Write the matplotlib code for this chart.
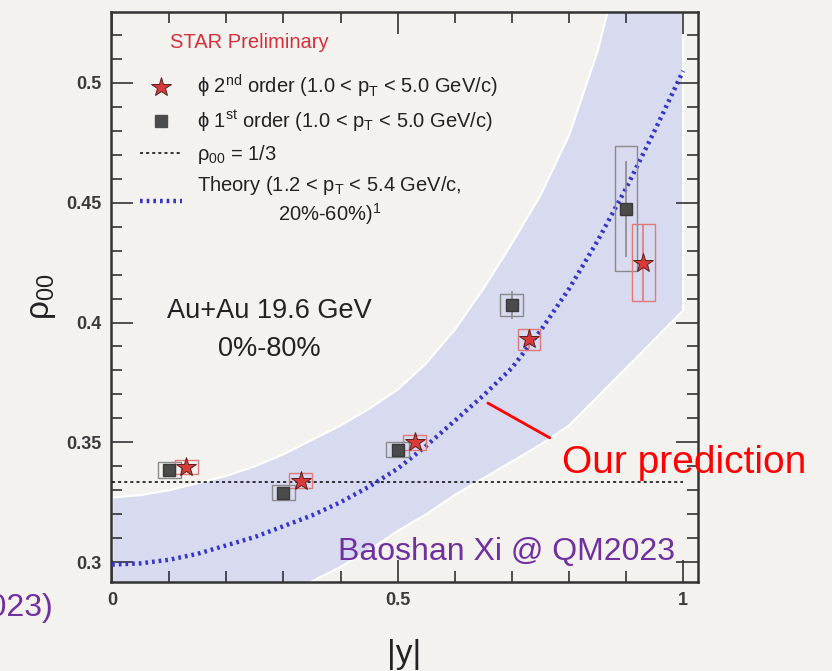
import matplotlib
matplotlib.use("Agg")
import matplotlib.pyplot as plt
from matplotlib.patches import Rectangle
from matplotlib.lines import Line2D
from matplotlib.ticker import MultipleLocator

plt.rcParams['font.family'] = ['Liberation Sans', 'DejaVu Sans']
plt.rcParams['mathtext.fontset'] = 'custom'
plt.rcParams['mathtext.rm'] = 'Liberation Sans'
plt.rcParams['mathtext.it'] = 'Liberation Sans:italic'
plt.rcParams['mathtext.bf'] = 'Liberation Sans:bold'

# phi 1st order (squares)
y1_x = [0.10, 0.30, 0.50, 0.70, 0.90]
y1_rho = [0.3385, 0.329, 0.347, 0.4073, 0.4475]
y1_stat = [0.002, 0.002, 0.002, 0.006, 0.020]
y1_sys = [0.0035, 0.003, 0.003, 0.0045, 0.026]

# phi 2nd order (stars)
y2_x = [0.13, 0.33, 0.53, 0.73, 0.93]
y2_rho = [0.3397, 0.334, 0.350, 0.393, 0.425]
y2_stat = [0.002, 0.002, 0.002, 0.004, 0.016]
y2_sys = [0.003, 0.003, 0.003, 0.0045, 0.016]

box_halfwidth = 0.02
rho_ref = 1.0 / 3.0

# theory curve and its band
th_x = [0.00, 0.05, 0.10, 0.15, 0.20, 0.25, 0.30, 0.35, 0.40, 0.45, 0.50,
        0.55, 0.60, 0.65, 0.70, 0.75, 0.80, 0.85, 0.90, 0.95, 1.00]
th_y = [0.299, 0.2995, 0.301, 0.3035, 0.307, 0.3105, 0.315, 0.3195, 0.325, 0.3315, 0.339,
        0.3485, 0.359, 0.3695, 0.381, 0.3965, 0.414, 0.434, 0.456, 0.480, 0.505]
band_hi = [0.327, 0.328, 0.330, 0.333, 0.336, 0.340, 0.345, 0.351, 0.357, 0.364, 0.372,
           0.383, 0.397, 0.414, 0.433, 0.453, 0.478, 0.513, 0.560, 0.610, 0.660]
band_lo = [0.260, 0.264, 0.268, 0.272, 0.276, 0.280, 0.285, 0.292, 0.298, 0.305, 0.313,
           0.320, 0.328, 0.335, 0.342, 0.349, 0.357, 0.369, 0.381, 0.393, 0.405]

bg = '#f3f2ef'
fig = plt.figure(figsize=(8.32, 6.71), dpi=100, facecolor=bg)
ax = fig.add_axes([0.1334, 0.1326, 0.7055, 0.8495], facecolor=bg)

ax.fill_between(th_x, band_lo, band_hi, color='#d8daf0', edgecolor='white', linewidth=1.5, zorder=1)
ax.plot(th_x, th_y, color='#3535c8', lw=3.2, ls=(0, (0.6, 0.9)), dash_capstyle='butt', zorder=4)
ax.hlines(rho_ref, 0, 1, colors='black', linestyles=(0, (2, 2)), lw=1.1, zorder=3)

# systematic boxes
for x, y, s in zip(y1_x, y1_rho, y1_sys):
    ax.add_patch(Rectangle((x - box_halfwidth, y - s), 2 * box_halfwidth, 2 * s,
                           fill=False, edgecolor='#8a8a8a', lw=1.0, zorder=5))
for x, y, s in zip(y2_x, y2_rho, y2_sys):
    ax.add_patch(Rectangle((x - box_halfwidth, y - s), 2 * box_halfwidth, 2 * s,
                           fill=False, edgecolor='#e07a7a', lw=1.0, zorder=5))

ax.errorbar(y1_x, y1_rho, yerr=y1_stat, fmt='none', ecolor='#8a8a8a', elinewidth=1.2, zorder=6)
ax.errorbar(y2_x, y2_rho, yerr=y2_stat, fmt='none', ecolor='#e07a7a', elinewidth=1.2, zorder=6)
ax.plot(y1_x, y1_rho, 's', color='#4b4b4b', markersize=8.5, markeredgecolor='#3a3a3a', zorder=7)
ax.plot(y2_x, y2_rho, '*', color='#d93a3a', markersize=15, markeredgecolor='#5a2020',
        markeredgewidth=0.7, zorder=7)

ax.set_xlim(-0.002, 1.026)
ax.set_ylim(0.2917, 0.5296)
ax.xaxis.set_major_locator(MultipleLocator(0.5))
ax.xaxis.set_minor_locator(MultipleLocator(0.1))
ax.yaxis.set_major_locator(MultipleLocator(0.05))
ax.yaxis.set_minor_locator(MultipleLocator(0.01))
ax.set_xticks([0, 0.5, 1])
ax.set_xticklabels(['0', '0.5', '1'])
ax.set_yticks([0.3, 0.35, 0.4, 0.45, 0.5])
ax.set_yticklabels(['0.3', '0.35', '0.4', '0.45', '0.5'])
ax.tick_params(which='both', direction='in', top=True, right=True, colors='#333333',
               labelsize=13, width=1.2)
ax.tick_params(which='major', length=16, pad=7)
ax.tick_params(which='minor', length=8)
for lab in ax.get_xticklabels() + ax.get_yticklabels():
    lab.set_fontweight('bold')
    lab.set_color('#3a3a3a')
for sp in ax.spines.values():
    sp.set_linewidth(1.8)
    sp.set_color('#333333')

ax.set_ylabel('ρ$_{\\mathrm{00}}$', fontsize=24, color='#222222', labelpad=6)
ax.set_xlabel('|y|', fontsize=24, color='#222222', labelpad=22)

ax.text(0.1005, 0.947, 'STAR Preliminary', transform=ax.transAxes, color='#d6303c',
        fontsize=14.5, va='center', ha='left')

handles = [
    Line2D([], [], ls='none', marker='*', color='#d93a3a', markersize=15,
           markeredgecolor='#5a2020', markeredgewidth=0.7),
    Line2D([], [], ls='none', marker='s', color='#4b4b4b', markersize=8.5),
    Line2D([], [], color='black', ls=(0, (2, 2)), lw=1.1),
    Line2D([], [], color='#3535c8', ls=(0, (0.6, 0.9)), lw=3.2),
]
labels = [
    'ϕ 2$^{\\mathrm{nd}}$ order (1.0 < p$_{\\mathrm{T}}$ < 5.0 GeV/c)',
    'ϕ 1$^{\\mathrm{st}}$ order (1.0 < p$_{\\mathrm{T}}$ < 5.0 GeV/c)',
    'ρ$_{\\mathrm{00}}$ = 1/3',
    'Theory (1.2 < p$_{\\mathrm{T}}$ < 5.4 GeV/c,\n20%-60%)$^{\\mathrm{1}}$',
]
leg = ax.legend(handles, labels, loc='upper left', bbox_to_anchor=(0.049, 0.893),
                frameon=False, fontsize=14.5, handlelength=2.1, handletextpad=0.75,
                labelspacing=0.42, borderpad=0, borderaxespad=0)
for t in leg.get_texts():
    t.set_color('#222222')
leg.get_texts()[3].set_multialignment('center')

ax.text(0.27, 0.442, 'Au+Au 19.6 GeV\n0%-80%', transform=ax.transAxes, fontsize=19.5,
        ha='center', va='center', color='#222222', linespacing=1.6)

# annotation pointing at the theory curve
ax.annotate('Our prediction', xy=(0.658, 0.3664), xytext=(562 / 832, 0.295),
            textcoords='figure fraction', fontsize=28, color='red', ha='left', va='baseline',
            annotation_clip=False,
            arrowprops=dict(arrowstyle='-', color='red', lw=2, shrinkA=0, shrinkB=0,
                            relpos=(-0.05, 1.2)))

fig.text(338 / 832, 0.1654, 'Baoshan Xi @ QM2023', fontsize=23, color='#7030a0',
         ha='left', va='baseline')
fig.text(53 / 832, 0.082, '(2023)', fontsize=23, color='#7030a0', ha='right', va='baseline')

fig.savefig('out.png', dpi=100, facecolor=bg)
